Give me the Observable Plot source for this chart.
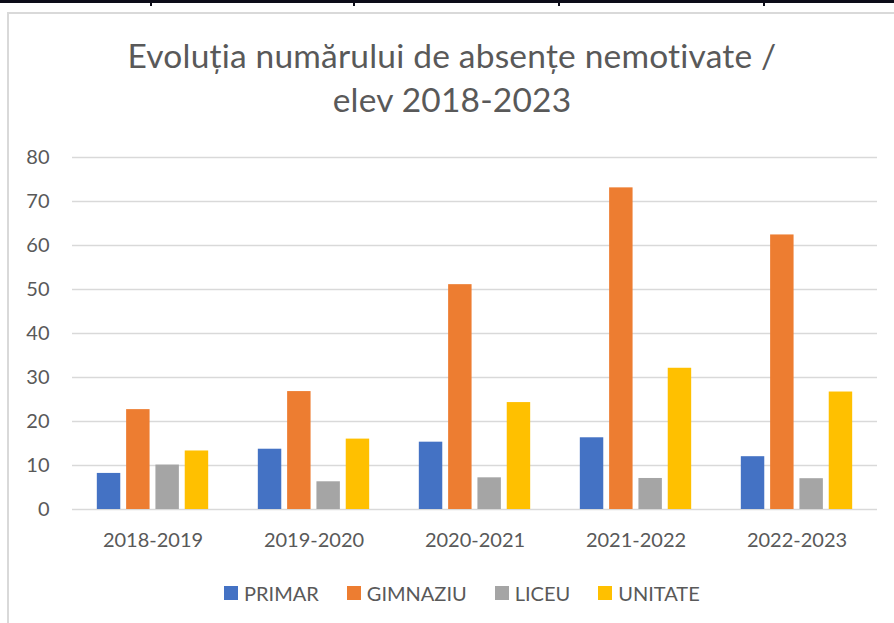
<!DOCTYPE html>
<html>
<head>
<meta charset="utf-8">
<script src="https://cdn.jsdelivr.net/npm/d3@7"></script>
<script src="https://cdn.jsdelivr.net/npm/@observablehq/plot@0.6"></script>
<style>
  html, body { margin: 0; padding: 0; background: #fff; }
  #page { position: relative; width: 894px; height: 623px; overflow: hidden; background: #fff; font-family: Lato, "Open Sans", sans-serif; }
  #topline { position: absolute; left: 0; top: 0; width: 894px; height: 3px; background: #0c0c18; }
  .tick { position: absolute; top: 0; width: 2px; height: 6px; background: #0c0c18; }
  #frame { position: absolute; left: 7px; top: 12px; width: 950px; height: 700px; border-left: 2px solid #d9d9d9; border-top: 2px solid #d9d9d9; }
  #title { position: absolute; left: 0; top: 33px; width: 904px; text-align: center; font-family: Lato, sans-serif; font-weight: 400; font-size: 33.5px; letter-spacing: 0.2px; line-height: 44px; color: #595959; }
  #chart { position: absolute; left: 0; top: 140px; }
  #legend { position: absolute; left: 224px; top: 576px; }
</style>
</head>
<body>
<div id="page">
  <div id="topline"></div>
  <div class="tick" style="left:150px"></div>
  <div class="tick" style="left:353px"></div>
  <div class="tick" style="left:558px"></div>
  <div class="tick" style="left:763px"></div>
  <div id="frame"></div>
  <div id="title">Evoluția numărului de absențe nemotivate /<br>elev 2018-2023</div>
  <div id="chart"></div>
  <div id="legend"></div>
</div>
<script>
const years = ["2018-2019", "2019-2020", "2020-2021", "2021-2022", "2022-2023"];
const series = ["PRIMAR", "GIMNAZIU", "LICEU", "UNITATE"];
const primar   = [8.2, 13.7, 15.3, 16.3, 12.0];
const gimnaziu = [22.7, 26.8, 51.1, 73.1, 62.4];
const liceu    = [10.1, 6.3, 7.2, 7.05, 7.0];
const unitate  = [13.3, 16.0, 24.3, 32.1, 26.7];
const colors = ["#4472C4", "#ED7D31", "#A5A5A5", "#FFC000"];
const yTicks = [0, 10, 20, 30, 40, 50, 60, 70, 80];

const seriesValues = [primar, gimnaziu, liceu, unitate];
const data = years.flatMap((yr, i) => series.map((s, j) => ({year: yr, series: s, value: seriesValues[j][i]})));

const chart = Plot.plot({
  width: 894,
  height: 420,
  marginLeft: 72,
  marginRight: 17,
  marginTop: 17,
  marginBottom: 51,
  style: {fontFamily: "Lato, sans-serif", fontSize: "20px", color: "#595959", background: "transparent"},
  facet: {data, x: "year"},
  fx: {domain: years, paddingInner: 0, paddingOuter: 0, round: false, label: null, axis: "bottom", tickSize: 0, tickPadding: 23},
  x: {domain: series, paddingInner: 0.2, paddingOuter: 0.847, round: false, axis: null},
  y: {domain: [0, 80], ticks: yTicks, tickSize: 0, tickPadding: 23, label: null},
  color: {domain: series, range: colors},
  marks: [
    Plot.ruleY(yTicks, {stroke: "#d9d9d9", strokeWidth: 1.3}),
    Plot.barY(data, {x: "series", y: "value", fill: "series"})
  ]
});
document.getElementById("chart").appendChild(chart);

const legend = Plot.legend({
  legend: "swatches",
  color: {type: "categorical", domain: series, range: colors},
  swatchSize: 14,
  className: "lg",
  style: {fontFamily: "Lato, sans-serif", fontSize: "20px", color: "#595959", margin: "0"}
});
document.getElementById("legend").appendChild(legend);
const css = document.createElement("style");
css.textContent = `
  #legend span, #legend div { margin-right: 28px !important; }
  #legend svg { margin-right: 6px !important; }
`;
document.head.appendChild(css);
</script>
</body>
</html>
